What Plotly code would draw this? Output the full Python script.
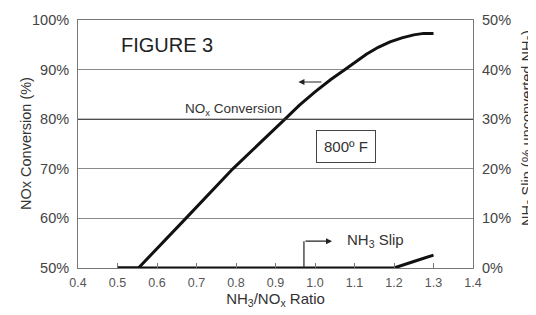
import plotly.graph_objects as go

# Data
nox_ratio = [0.50, 0.553, 0.673, 0.792, 0.924, 0.96, 1.00, 1.04, 1.076, 1.10, 1.13, 1.16, 1.19, 1.22, 1.25, 1.275, 1.30]
nox_conv = [50.0, 50.0, 60.0, 70.0, 80.0, 82.8, 85.5, 88.0, 90.0, 91.4, 93.1, 94.5, 95.6, 96.4, 97.0, 97.3, 97.3]

slip_ratio = [0.50, 0.70, 0.90, 1.10, 1.20, 1.25, 1.30]
slip_pct = [0.0, 0.0, 0.0, 0.0, 0.0, 1.3, 2.6]

x_ticks = [0.4, 0.5, 0.6, 0.7, 0.8, 0.9, 1.0, 1.1, 1.2, 1.3, 1.4]
left_ticks = [50, 60, 70, 80, 90, 100]
right_ticks = [0, 10, 20, 30, 40, 50]

FONT = "Liberation Sans, Arial, sans-serif"
TXT = "#333333"

fig = go.Figure()
fig.add_trace(go.Scatter(x=nox_ratio, y=nox_conv, mode="lines", line=dict(color="#111111", width=3),
                         showlegend=False, hoverinfo="skip"))
fig.add_trace(go.Scatter(x=slip_ratio, y=slip_pct, mode="lines", line=dict(color="#111111", width=3), yaxis="y2",
                         showlegend=False, hoverinfo="skip"))

fig.update_layout(
    width=528, height=307,
    margin=dict(l=70, r=63, t=12, b=47, autoexpand=False),
    paper_bgcolor="white", plot_bgcolor="white",
    font=dict(family=FONT, size=13, color=TXT),
    xaxis=dict(range=[0.4, 1.4], tickvals=x_ticks, ticktext=[f"{v:.1f}" for v in x_ticks], automargin=False,
               showgrid=False, zeroline=False, showline=True, linecolor="#777777", linewidth=1, mirror=True,
               ticks="inside", ticklen=5, tickcolor="#777777", tickfont=dict(size=12.5, color="#555555"),
               ticklabelstandoff=3,
               title=dict(text="NH<sub>3</sub>/NO<sub>x</sub> Ratio", font=dict(size=15, color=TXT), standoff=1)),
    yaxis=dict(range=[50, 100], tickvals=left_ticks, ticktext=[f"{v}%" for v in left_ticks], automargin=False,
               showgrid=True, gridcolor="#8a8a8a", gridwidth=1, zeroline=False,
               showline=True, linecolor="#777777", linewidth=1, mirror=True, ticks="",
               tickfont=dict(size=14.5, color="#444444"), ticklabelstandoff=5),
    yaxis2=dict(range=[0, 50], overlaying="y", side="right", tickvals=right_ticks, automargin=False,
                ticktext=[f"{v}%" for v in right_ticks], showgrid=False, zeroline=False, ticks="",
                showline=False, tickfont=dict(size=14.5, color="#444444"), ticklabelstandoff=8),
)

# Left axis title
fig.add_annotation(text="NOx Conversion (%)", xref="paper", yref="paper", x=0.0, xshift=-52, y=0.5,
                   textangle=-90, showarrow=False, xanchor="center", yanchor="middle",
                   font=dict(size=14.5, color=TXT))
# Darker 80% gridline
fig.add_shape(type="line", xref="paper", x0=0, x1=1, yref="y", y0=80, y1=80, line=dict(color="#333333", width=1))
# Secondary axis title (partially clipped at right edge in reference)
fig.add_annotation(text="NH<sub>3</sub> Slip (% unconverted NH<sub>3</sub>)", xref="paper", yref="paper",
                   x=1.0, xshift=55, y=0.5645, textangle=-90, showarrow=False, xanchor="center", yanchor="middle",
                   font=dict(size=14.5, color=TXT))
# FIGURE 3
fig.add_annotation(text="FIGURE 3", xref="x", yref="y", x=0.505, y=95.0, xanchor="left", showarrow=False,
                   font=dict(size=20, color="#222222"))
# NOx conversion label
fig.add_annotation(text="NO<sub>x</sub> Conversion", xref="x", yref="y", x=0.921, y=81.9, xanchor="right",
                   showarrow=False, font=dict(size=13.5, color=TXT))
# arrow pointing to left axis
fig.add_annotation(x=0.958, y=87.5, ax=1.02, ay=87.5, xref="x", yref="y", axref="x", ayref="y", text="",
                   showarrow=True, arrowhead=2, arrowsize=1, arrowwidth=1.2, arrowcolor="#222222")
# 800F box
fig.add_annotation(text="800º F", xref="x", yref="y", x=1.078, y=74.4, showarrow=False,
                   font=dict(size=15, color=TXT), bordercolor="#444444", borderwidth=1, borderpad=7,
                   bgcolor="white")
# NH3 slip pointer
fig.add_shape(type="line", xref="x", yref="y", x0=0.972, x1=0.972, y0=50, y1=55.4, line=dict(color="#222222", width=1.2))
fig.add_annotation(x=1.043, y=55.4, ax=0.972, ay=55.4, xref="x", yref="y", axref="x", ayref="y", text="",
                   showarrow=True, arrowhead=2, arrowsize=1, arrowwidth=1.2, arrowcolor="#222222")
fig.add_annotation(text="NH<sub>3</sub> Slip", xref="x", yref="y", x=1.077, y=55.6, xanchor="left",
                   showarrow=False, font=dict(size=15, color=TXT))

fig.write_html("out.html")
